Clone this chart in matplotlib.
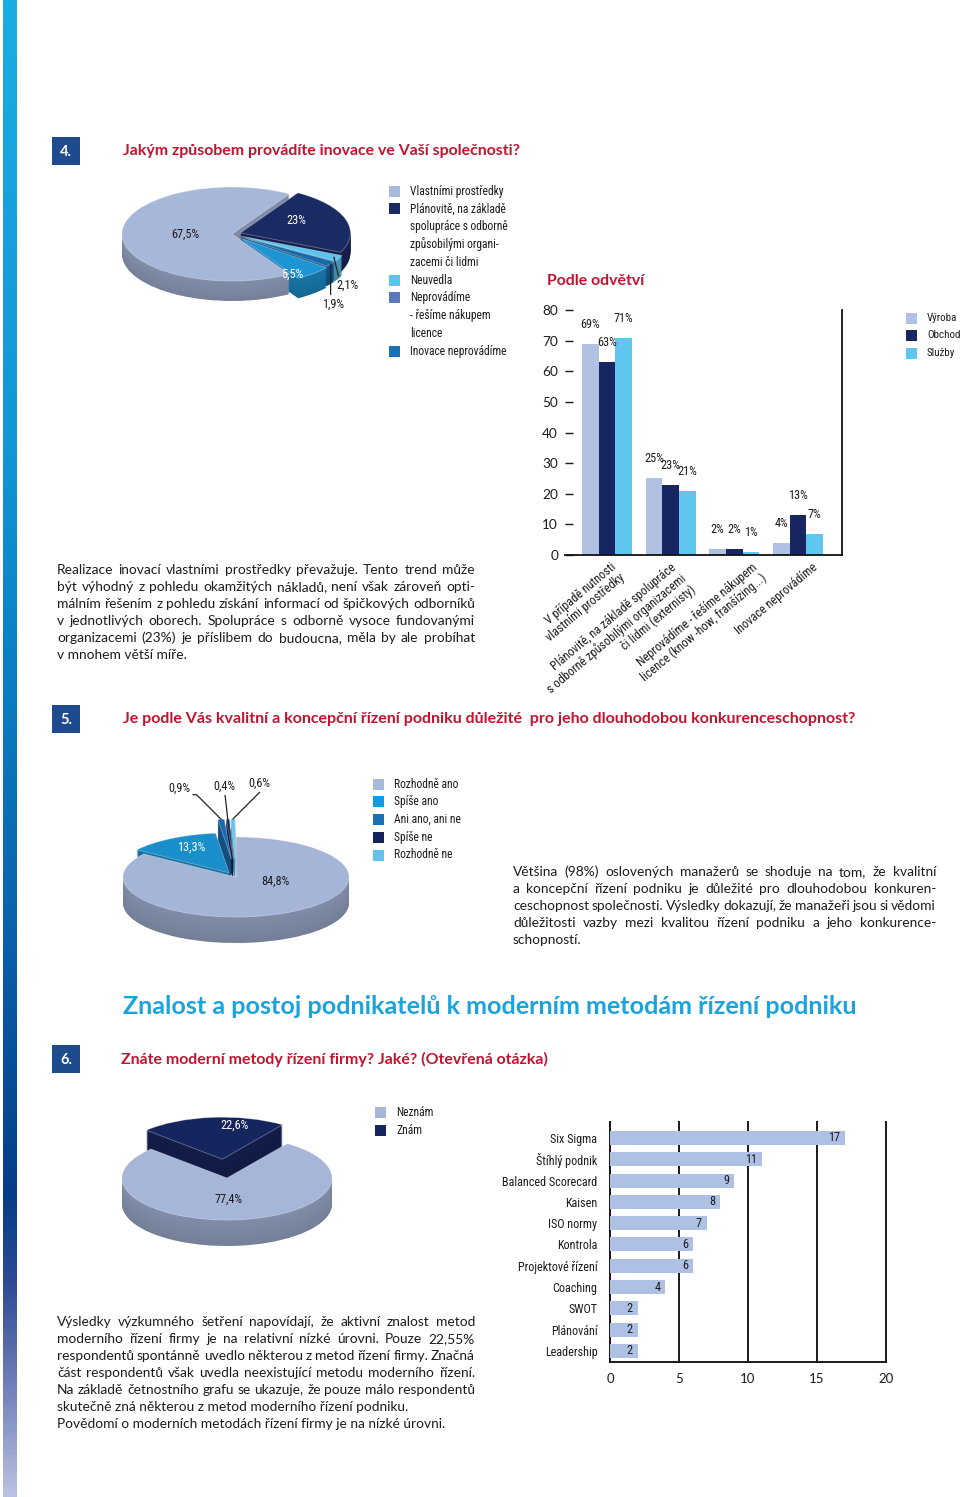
import numpy as np
import matplotlib
matplotlib.use("Agg")
import matplotlib.pyplot as plt
from matplotlib import font_manager as fm
from matplotlib.font_manager import FontProperties
from matplotlib.colors import LinearSegmentedColormap, to_rgb
from matplotlib.patches import Rectangle
from matplotlib.transforms import ScaledTranslation

# ---------------- data ----------------
pie1_labels = ["Vlastními prostředky",
               "Plánovitě, na základě\nspolupráce s odborně\nzpůsobilými organi-\nzacemi či lidmi",
               "Neuvedla",
               "Neprovádíme\n- řešíme nákupem\nlicence",
               "Inovace neprovádíme"]
pie1_values = [67.5, 23, 2.1, 1.9, 5.5]

sector_categories = ["V případě nutnosti\nvlastními prostředky",
                     "Plánovitě, na základě spolupráce\ns odborně způsobilými organizacemi\nči lidmi (externisty)",
                     "Neprovádíme - řešíme nákupem\nlicence (know -how, franšízing...)",
                     "Inovace neprovádíme"]
sector_series = ["Výroba", "Obchod", "Služby"]
vyroba = [69, 25, 2, 4]
obchod = [63, 23, 2, 13]
sluzby = [71, 21, 1, 7]
sector_yticks = [0, 10, 20, 30, 40, 50, 60, 70, 80]

pie2_labels = ["Rozhodně ano", "Spíše ano", "Ani ano, ani ne", "Spíše ne", "Rozhodně ne"]
pie2_values = [84.8, 13.3, 0.9, 0.4, 0.6]

pie3_labels = ["Neznám", "Znám"]
pie3_values = [77.4, 22.6]

methods = ["Six Sigma", "Štíhlý podnik", "Balanced Scorecard", "Kaisen", "ISO normy",
           "Kontrola", "Projektové řízení", "Coaching", "SWOT", "Plánování", "Leadership"]
method_counts = [17, 11, 9, 8, 7, 6, 6, 4, 2, 2, 2]
method_xticks = [0, 5, 10, 15, 20]

title4 = "Jakým způsobem provádíte inovace ve Vaší společnosti?"
title_sector = "Podle odvětví"
title5 = "Je podle Vás kvalitní a koncepční řízení podniku důležité  pro jeho dlouhodobou konkurenceschopnost?"
heading = "Znalost a postoj podnikatelů k moderním metodám řízení podniku"
title6 = "Znáte moderní metody řízení firmy? Jaké? (Otevřená otázka)"

para1 = ["Realizace inovací vlastními prostředky převažuje. Tento trend může",
         "být výhodný z pohledu okamžitých nákladů, není však zároveň opti-",
         "málním řešením z pohledu získání informací od špičkových odborníků",
         "v jednotlivých oborech. Spolupráce s odborně vysoce fundovanými",
         "organizacemi (23%) je příslibem do budoucna, měla by ale probíhat",
         "v mnohem větší míře."]
para2 = ["Většina (98%) oslovených manažerů se shoduje na tom, že kvalitní",
         "a koncepční řízení podniku je důležité pro dlouhodobou konkuren-",
         "ceschopnost společnosti. Výsledky dokazují, že manažeři jsou si vědomi",
         "důležitosti vazby mezi kvalitou řízení podniku a jeho konkurence-",
         "schopností."]
para3 = ["Výsledky výzkumného šetření napovídají, že aktivní znalost metod",
         "moderního řízení firmy je na relativní nízké úrovni. Pouze 22,55%",
         "respondentů spontánně uvedlo některou z metod řízení firmy. Značná",
         "část respondentů však uvedla neexistující metodu moderního řízení.",
         "Na základě četnostního grafu se ukazuje, že pouze málo respondentů",
         "skutečně zná některou z metod moderního řízení podniku.",
         "Povědomí o moderních metodách řízení firmy je na nízké úrovni."]

# ---------------- fonts ----------------
def has_font(fam, stretch="normal", need=None):
    try:
        p = fm.findfont(FontProperties(family=fam, stretch=stretch), fallback_to_default=False)
    except Exception:
        return False
    if need is not None:
        return any(n.lower() in p.lower() for n in need)
    return True

COND = ["DejaVu Sans"]
COND_STRETCH = "normal"
COND_SCALE = 0.8
for fam, st, need in [("Liberation Sans Narrow", "normal", None),
                      ("Roboto Condensed", "normal", None),
                      ("Open Sans Condensed", "normal", None),
                      ("DejaVu Sans", "condensed", ["Condensed"])]:
    if has_font(fam, st, need):
        COND = [fam, "DejaVu Sans"]
        COND_STRETCH = st
        COND_SCALE = 1.0
        break
BODY = ["Lato", "Open Sans", "DejaVu Sans"]

TXT = "#1e1b1c"
RED = "#c4122f"
NAVYBOX = "#1e4a8e"
CYAN = "#1ba3de"

W, H = 960, 1497
fig = plt.figure(figsize=(9.6, 14.97), dpi=100)
fig.patch.set_facecolor("white")
renderer = fig.canvas.get_renderer()


def px_axes(x0, y0, x1, y1):
    return fig.add_axes([x0 / W, 1 - y1 / H, (x1 - x0) / W, (y1 - y0) / H])


base = px_axes(0, 0, W, H)
base.axis("off")

# side gradient strip
cmap = LinearSegmentedColormap.from_list("strip", [
    (0.0, "#19ade3"), (0.3, "#1197d6"), (0.42, "#0b84c5"), (0.6, "#0a66ae"),
    (0.8, "#063d88"), (0.86, "#2d4c95"), (0.93, "#7381bb"), (1.0, "#b9c0e2")])
base.imshow(np.linspace(0, 1, 600).reshape(-1, 1), extent=(3, 17, H, 0),
            aspect="auto", cmap=cmap, origin="upper")
base.set_xlim(0, W)
base.set_ylim(H, 0)


def ctext(x, y, s, size, **kw):
    return base.text(x, y, s, fontsize=size * COND_SCALE, family=COND,
                     fontstretch=COND_STRETCH, color=kw.pop("color", TXT), **kw)


def fit_text(x0, x1, y, s, color, family, weight="bold", size0=10):
    t = base.text(x0, y, s, fontsize=size0, family=family, weight=weight,
                  color=color, va="center", ha="left")
    w = t.get_window_extent(renderer).width
    t.set_fontsize(size0 * (x1 - x0) / w)
    return t


def num_box(y, label):
    base.add_patch(Rectangle((52, y), 28, 28, color=NAVYBOX, lw=0))
    base.text(66, y + 14.5, label, color="white", fontsize=10.5, weight="bold",
              family=BODY, ha="center", va="center")


def justify(lines, x0, x1, y0, dy, left_idx, size=9.9):
    kw0 = dict(family=BODY, color=TXT, va="center", ha="left")
    for i, line in enumerate(lines):
        y = y0 + i * dy
        if i in left_idx:
            base.text(x0, y, line, fontsize=size, **kw0)
            continue
        words = line.split()
        s = size
        while True:
            ts = [base.text(0, y, w, fontsize=s, **kw0) for w in words]
            ws = [t.get_window_extent(renderer).width for t in ts]
            gap = (x1 - x0 - sum(ws)) / (len(ws) - 1)
            if gap >= 2.2 or s < 7:
                break
            for t in ts:
                t.remove()
            s *= 0.985
        x = x0
        for t, w in zip(ts, ws):
            t.set_x(x)
            x += w + gap


def legend(xsq, xtxt, y0, labels, colors, step=17.8, sq=11, size=8.3):
    y = y0
    for lab, c in zip(labels, colors):
        base.add_patch(Rectangle((xsq, y - sq / 2), sq, sq, color=c, lw=0))
        for j, ln in enumerate(lab.split("\n")):
            ctext(xtxt, y + j * step, ln, size, va="center", ha="left")
        y += step * len(lab.split("\n"))


def shade(c, f):
    r, g, b = to_rgb(c)
    return (r * f, g * f, b * f)


def pct(v):
    return f"{v:g}".replace(".", ",") + "%"


def draw_pie(values, colors, cx, cy, rx, ry, depth, start, explode, side_f=0.78):
    ax = px_axes(cx - 1.7 * rx, cy - 1.7 * ry, cx + 1.7 * rx, cy + 1.7 * ry + depth)
    d = depth / ry
    n = int(depth)
    for k in range(n, 0, -1):
        f = side_f - 0.08 * (k / n)
        ax.pie(values, colors=[shade(c, f) for c in colors], center=(0, -k * d / n),
               startangle=start, counterclock=False, explode=explode,
               wedgeprops=dict(linewidth=0))
    wedges, _ = ax.pie(values, colors=colors, center=(0, 0), startangle=start,
                       counterclock=False, explode=explode,
                       wedgeprops=dict(linewidth=0.6, edgecolor=(1, 1, 1, 0.35)))
    ax.set_aspect("auto")
    ax.set_xlim(-1.7, 1.7)
    ax.set_ylim(-1.7 - d, 1.7)
    ax.axis("off")
    return ax, wedges


def wpoint(w, r, shift=0.0):
    th = np.deg2rad((w.theta1 + w.theta2) / 2 + shift)
    cx, cy = w.center
    return cx + w.r * r * np.cos(th), cy + w.r * r * np.sin(th)


def pie_labels(ax, wedges, values, specs):
    for w, v, sp in zip(wedges, values, specs):
        if sp[0] == "in":
            _, r, col, sh = sp
            x, y = wpoint(w, r, sh)
            ax.text(x, y, pct(v), ha="center", va="center", color=col,
                    fontsize=8.8 * COND_SCALE, family=COND, fontstretch=COND_STRETCH,
                    zorder=10)
        else:
            _, r, off, relpos, conn = sp
            x, y = wpoint(w, r)
            ax.annotate(pct(v), (x, y), xytext=off, textcoords="offset pixels",
                        ha="center", va="center", color=TXT, zorder=10,
                        fontsize=8.8 * COND_SCALE, family=COND, fontstretch=COND_STRETCH,
                        arrowprops=dict(arrowstyle="-", color="#222222", lw=0.9,
                                        shrinkA=0, shrinkB=0, relpos=relpos,
                                        connectionstyle=conn), annotation_clip=False)


# ---------------- section 4 ----------------
num_box(137, "4.")
fit_text(123, 521, 151, title4, RED, BODY)

pie1_colors = ["#a7b7da", "#1a2a62", "#5cc4ec", "#1a69aa", "#1d95d4"]
pie1_legend_colors = ["#a9badc", "#1a2a62", "#5cc4ec", "#5a78ba", "#1a71b5"]
ax1, w1 = draw_pie(pie1_values, pie1_colors, 232, 234, 110, 47, 20, 301.5,
                   [0, 0.08, 0.1, 0.1, 0.12])
pie_labels(ax1, w1, pie1_values, [
    ("in", 0.42, TXT, 0),
    ("in", 0.58, "white", 11),
    ("out", 0.95, (14, -28), (0.1, 1), "arc3"),
    ("out", 1.0, (2, -40), (0.4, 1), "arc3"),
    ("in", 0.9, "white", -10)])
legend(389, 410, 191, pie1_labels, pie1_legend_colors)

# sector bar chart
fit_text(547, 645, 281, title_sector, RED, BODY)
sector_colors = ["#b1c1e3", "#172560", "#5ec6ef"]
axb = px_axes(565, 310, 842, 555)
xg = np.arange(len(sector_categories))
bw = 0.262
for i, (vals, col) in enumerate(zip([vyroba, obchod, sluzby], sector_colors)):
    bars = axb.bar(xg + (i - 1) * bw, vals, bw, color=col, lw=0)
    for b, v in zip(bars, vals):
        axb.annotate(f"{v}%", (b.get_x() + b.get_width() / 2, v), xytext=(0, 13),
                     textcoords="offset pixels", ha="center", va="bottom",
                     fontsize=8.8 * COND_SCALE, family=COND, fontstretch=COND_STRETCH,
                     color=TXT, annotation_clip=False)
axb.set_xlim(-0.66, 3.69)
axb.set_ylim(0, 80)
axb.set_yticks(sector_yticks)
axb.tick_params(axis="y", direction="in", length=6, width=1.0, pad=5, labelsize=9.8,
                colors=TXT)
for lab in axb.get_yticklabels():
    lab.set_family(BODY)
axb.set_xticks(xg)
axb.set_xticklabels(sector_categories, rotation=40, ha="right", rotation_mode="anchor",
                    fontsize=8.8 * COND_SCALE, family=COND, fontstretch=COND_STRETCH,
                    multialignment="right", color=TXT, linespacing=1.1)
axb.tick_params(axis="x", length=0, pad=4)
label_nudge_px = [3, 0, 17, 14]
for lab, dxp in zip(axb.get_xticklabels(), label_nudge_px):
    lab.set_transform(lab.get_transform() + ScaledTranslation(dxp / 100, 0, fig.dpi_scale_trans))
for s in ["top", "left"]:
    axb.spines[s].set_visible(False)
for s in ["bottom", "right"]:
    axb.spines[s].set_color("#111111")
    axb.spines[s].set_linewidth(1.3)
axb.patch.set_alpha(0)
legend(906, 927, 318, sector_series, sector_colors, step=17.5, size=7.9)

justify(para1, 57, 475, 570, 17, {5})

# ---------------- section 5 ----------------
num_box(705, "5.")
fit_text(123, 858, 719, title5, RED, BODY)

pie2_colors = ["#a5b5d8", "#1a8fcc", "#1a6aab", "#15215a", "#5fc4ea"]
pie2_legend_colors = ["#a9badc", "#0e9be0", "#1b6fb3", "#15215a", "#5fc4ea"]
ax2, w2 = draw_pie(pie2_values, pie2_colors, 236, 877, 113, 40, 26, 90,
                   [0, 0.12, 0.45, 0.45, 0.45])
pie_labels(ax2, w2, pie2_values, [
    ("in", 0.37, TXT, 44),
    ("in", 0.72, "white", -3),
    ("out", 1.0, (-42, 31), (0.0, 0.0), "angle,angleA=0,angleB=135,rad=0"),
    ("out", 1.0, (-3, 33), (0.5, 0.0), "arc3"),
    ("out", 1.0, (26, 36), (1.0, 0.0), "angle,angleA=0,angleB=45,rad=0")])
legend(373, 394, 784, pie2_labels, pie2_legend_colors, step=17.75)

justify(para2, 513, 936, 872, 17, {4})

# ---------------- heading & section 6 ----------------
fit_text(123, 858, 1006, heading, CYAN, BODY)
num_box(1045, "6.")
fit_text(121, 549, 1059, title6, RED, BODY)

pie3_colors = ["#a6b6d9", "#17255e"]
ax3, w3 = draw_pie(pie3_values, pie3_colors, 227, 1178, 105, 42, 26, 55, [0, 0.45])
pie_labels(ax3, w3, pie3_values, [
    ("in", 0.5, TXT, -4),
    ("in", 0.82, "white", -14)])
legend(375, 396, 1112, pie3_labels, pie3_colors, step=18)

# methods horizontal bar chart
axh = px_axes(610, 1122, 886, 1362)
ym = np.arange(len(methods))
hb = axh.barh(ym, method_counts, height=0.66, color="#aec0e4", lw=0, zorder=3)
for b, v in zip(hb, method_counts):
    axh.annotate(str(v), (v, b.get_y() + b.get_height() / 2), xytext=(-5, 0),
                 textcoords="offset pixels", ha="right", va="center",
                 fontsize=8.8 * COND_SCALE, family=COND, fontstretch=COND_STRETCH,
                 color=TXT, zorder=4)
axh.set_xlim(0, 20)
axh.set_ylim(10.52, -0.75)
axh.set_xticks(method_xticks)
axh.set_yticks(ym)
axh.set_yticklabels(methods, fontsize=8.7 * COND_SCALE, family=COND,
                    fontstretch=COND_STRETCH, color=TXT)
axh.tick_params(axis="y", length=0, pad=9)
axh.tick_params(axis="x", length=0, pad=8, labelsize=9.5, colors=TXT)
for lab in axh.get_xticklabels():
    lab.set_family(BODY)
axh.set_axisbelow(True)
axh.grid(axis="x", color="#1a1a1a", lw=1.4)
for gl in axh.get_xgridlines():
    gl.set_clip_on(False)
for s in ["top", "right"]:
    axh.spines[s].set_visible(False)
for s in ["left", "bottom"]:
    axh.spines[s].set_color("#1a1a1a")
    axh.spines[s].set_linewidth(1.4)
axh.patch.set_alpha(0)

justify(para3, 57, 475, 1322, 17, {5, 6})

fig.savefig("out.png", dpi=100, facecolor="white")
